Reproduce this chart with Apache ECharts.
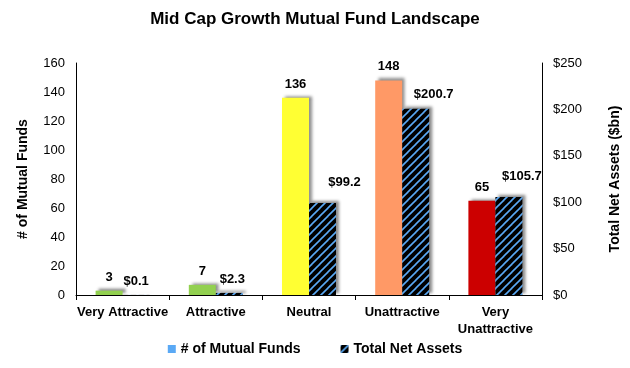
<!DOCTYPE html>
<html><head><meta charset="utf-8">
<script src="https://cdn.jsdelivr.net/npm/echarts@6/dist/echarts.min.js"></script>
<style>html,body{margin:0;padding:0;background:#fff}#c{width:630px;height:368px}</style>
</head><body><div id="c"></div>
<script>
const categories = ['Very Attractive', 'Attractive', 'Neutral', 'Unattractive', 'Very\nUnattractive'];
const fundCounts = [3, 7, 136, 148, 65];
const netAssets = [0.1, 2.3, 99.2, 200.7, 105.7];
const leftTicks = [0, 20, 40, 60, 80, 100, 120, 140, 160];
const rightTicks = [0, 50, 100, 150, 200, 250];

const barColors = ['#92d050', '#92d050', '#ffff33', '#ff9966', '#cc0000'];
const assetLabelOffsets = [[0, 0], [3, 0], [22, -7], [18, -1], [13, -7]];

function hatch() {
  const P = 8;
  const cv = document.createElement('canvas');
  cv.width = P; cv.height = P;
  const g = cv.getContext('2d');
  g.fillStyle = '#000'; g.fillRect(0, 0, P, P);
  g.strokeStyle = '#5aa9f5'; g.lineWidth = 1.6;
  for (const k of [-P, 0, P]) {
    g.beginPath(); g.moveTo(k - 1, P + 1); g.lineTo(k + P + 1, -1); g.stroke();
  }
  return cv;
}
const pattern = { image: hatch(), repeat: 'repeat' };

const F = 'Arial, "Liberation Sans", sans-serif';
const shadow = { shadowColor: 'rgba(0,0,0,0.45)', shadowBlur: 3, shadowOffsetX: 3, shadowOffsetY: -2 };

const chart = echarts.init(document.getElementById('c'), null, { renderer: 'canvas' });
chart.setOption({
  animation: false,
  backgroundColor: '#fff',
  title: {
    text: 'Mid Cap Growth Mutual Fund Landscape', left: 'center', top: 6,
    textStyle: { fontFamily: F, fontSize: 17, fontWeight: 'bold', color: '#000' }
  },
  legend: {
    bottom: 7, left: 'center', itemWidth: 8, itemHeight: 8, itemGap: 40,
    textStyle: { fontFamily: F, fontSize: 14, fontWeight: 'bold', color: '#000' },
    data: [{ name: '# of Mutual Funds', icon: 'rect' }, { name: 'Total Net Assets', icon: 'rect' }]
  },
  grid: { left: 76, right: 85, top: 63, bottom: 73 },
  xAxis: {
    type: 'category', data: categories,
    axisLine: { lineStyle: { color: '#000', width: 1 } },
    axisTick: { show: true, length: 5, lineStyle: { color: '#000' } },
    axisLabel: { fontFamily: F, fontSize: 13, fontWeight: 'bold', color: '#000', margin: 9, lineHeight: 17, interval: 0 }
  },
  yAxis: [
    {
      type: 'value', min: 0, max: 160, interval: 20,
      name: '# of Mutual Funds', nameLocation: 'middle', nameGap: 46, nameRotate: 90,
      nameTextStyle: { fontFamily: F, fontSize: 14, fontWeight: 'bold', color: '#000' },
      axisLine: { show: true, lineStyle: { color: '#000' } },
      axisTick: { show: false },
      splitLine: { show: false },
      axisLabel: { fontFamily: F, fontSize: 13, color: '#000', margin: 11,
        formatter: v => leftTicks.includes(v) ? String(v) : '' }
    },
    {
      type: 'value', min: 0, max: 250, interval: 50,
      name: 'Total Net Assets ($bn)', nameLocation: 'middle', nameGap: 66, nameRotate: 90,
      nameTextStyle: { fontFamily: F, fontSize: 14, fontWeight: 'bold', color: '#000' },
      axisLine: { show: true, lineStyle: { color: '#000' } },
      axisTick: { show: false },
      splitLine: { show: false },
      axisLabel: { fontFamily: F, fontSize: 13, color: '#000', margin: 11,
        formatter: v => rightTicks.includes(v) ? '$' + v : '' }
    }
  ],
  series: [
    {
      name: '# of Mutual Funds', type: 'bar', yAxisIndex: 0, barWidth: 27, barGap: '0%',
      itemStyle: Object.assign({ color: '#5aa9f5' }, shadow),
      label: { show: true, position: 'top', distance: 7, fontFamily: F, fontSize: 13, fontWeight: 'bold', color: '#000' },
      data: fundCounts.map((v, i) => ({ value: v, itemStyle: { color: barColors[i] } }))
    },
    {
      name: 'Total Net Assets', type: 'bar', yAxisIndex: 1, barWidth: 27,
      itemStyle: Object.assign({ color: pattern }, shadow),
      label: { show: true, position: 'top', distance: 7, fontFamily: F, fontSize: 13, fontWeight: 'bold', color: '#000',
        formatter: p => '$' + p.value.toFixed(1) },
      data: netAssets.map((v, i) => ({ value: v, label: { offset: assetLabelOffsets[i] } }))
    }
  ]
});
</script></body></html>
